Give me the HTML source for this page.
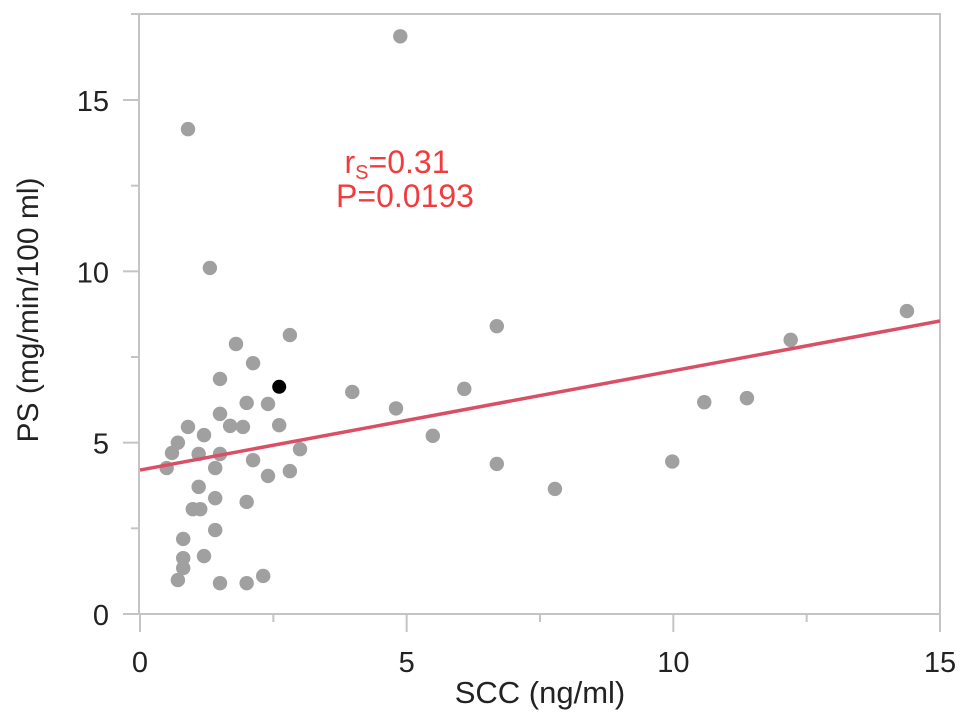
<!DOCTYPE html>
<html><head><meta charset="utf-8"><style>
html,body{margin:0;padding:0;background:#fff;}
svg{display:block;font-family:"Liberation Sans",Arial,sans-serif;}
</style></head><body>
<svg id="chart" width="969" height="723" viewBox="0 0 969 723">
<g id="axes"></g>
<g id="pts"></g>
<g id="ann">
<text x="397" y="173" text-anchor="middle" font-size="32" fill="#f03c3c">r<tspan font-size="20" dy="6">S</tspan><tspan dy="-6">=0.31</tspan></text>
<text x="405" y="207" text-anchor="middle" font-size="32" fill="#f03c3c">P=0.0193</text>
</g>
<text x="540" y="703" text-anchor="middle" font-size="31" fill="#222">SCC (ng/ml)</text>
<text transform="translate(38,310) rotate(-90)" text-anchor="middle" font-size="30" fill="#222">PS (mg/min/100 ml)</text>
</svg>
<script>
const xTicks=[0,5,10,15];
const yTicks=[0,5,10,15];
const xs=[4.88,0.9,1.31,2.81,6.69,14.38,12.2,3.98,6.08,4.8,11.38,10.58,5.49,6.69,9.98,7.78,3.0,
1.8,2.12,1.5,2.0,2.4,1.5,0.9,1.69,1.93,2.61,1.2,0.71,0.6,1.1,1.5,0.5,1.41,2.12,2.4,2.81,1.1,1.41,2.0,0.99,1.13,1.41,0.81,1.2,0.81,0.81,0.71,1.5,2.0,2.31];
const ys=[16.86,14.15,10.1,8.14,8.4,8.84,8.0,6.48,6.57,6.0,6.3,6.18,5.2,4.38,4.45,3.65,4.81,
7.88,7.32,6.86,6.16,6.13,5.84,5.46,5.49,5.46,5.51,5.22,5.0,4.7,4.67,4.67,4.26,4.26,4.49,4.03,4.17,3.71,3.38,3.27,3.06,3.06,2.45,2.19,1.69,1.63,1.34,0.99,0.9,0.9,1.11];
const highlight=[2.61,6.63];
const fitLine=[4.2,8.55]; // y at x=0 and x=15
const X0=140,X1=940,Y0=614,Y1=100;
const sx=v=>X0+(X1-X0)*v/15;
const sy=v=>Y0-(Y0-Y1)*v/15;
const NS="http://www.w3.org/2000/svg";
function mk(p,t,a){const e=document.createElementNS(NS,t);for(const k in a)e.setAttribute(k,a[k]);p.appendChild(e);return e;}
const ax=document.getElementById('axes');
const g="#c4c4c4";
let f=mk(ax,'path',{d:`M131 14H940V614H127`,fill:'none',stroke:g,'stroke-width':2});


let yl=mk(ax,'line',{x1:139,y1:14,x2:139,y2:614,stroke:g,'stroke-width':2});


for(let i=0;i<=6;i++){const v=i*2.5;const major=i%2==0;
 const t=mk(ax,'line',{x1:sx(v),y1:614,x2:sx(v),y2:major?632:622,stroke:g,'stroke-width':2});
 
 
 const u=mk(ax,'line',{x1:major?123:131,y1:sy(v),x2:139,y2:sy(v),stroke:g,'stroke-width':2});
 
 }
xTicks.forEach(v=>{const t=mk(ax,'text',{x:sx(v),y:672,'text-anchor':'middle','font-size':29,fill:'#222'});t.textContent=v;
 
 });
yTicks.forEach(v=>{const t=mk(ax,'text',{x:109,y:sy(v)+11,'text-anchor':'end','font-size':29,fill:'#222'});t.textContent=v;
 
 });
const pg=document.getElementById('pts');
xs.forEach((v,i)=>{const c=mk(pg,'circle',{cx:sx(v),cy:sy(ys[i]),r:7.2,fill:'#a0a0a0'});
 
 });
const hb=mk(pg,'circle',{cx:sx(highlight[0]),cy:sy(highlight[1]),r:7,fill:'#000'});


const ln=mk(pg,'line',{x1:sx(0),y1:sy(fitLine[0]),x2:sx(15),y2:sy(fitLine[1]),stroke:'#d94f66','stroke-width':3.5});


</script>
</body></html>
